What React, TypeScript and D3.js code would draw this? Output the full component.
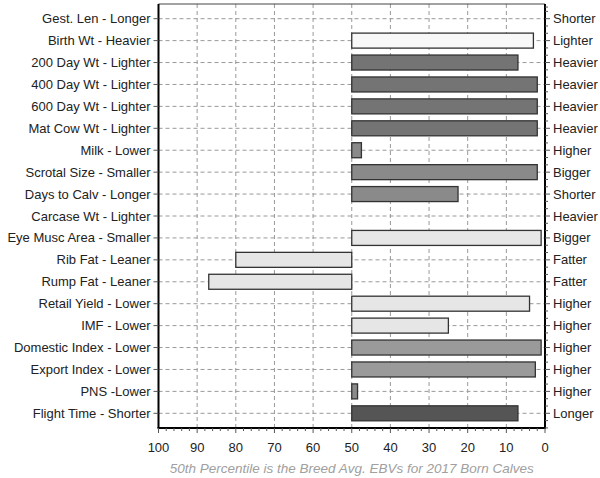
import React from "react";
import * as d3 from "d3";

const traits = [
  "Gest. Len - Longer",
  "Birth Wt - Heavier",
  "200 Day Wt - Lighter",
  "400 Day Wt - Lighter",
  "600 Day Wt - Lighter",
  "Mat Cow Wt - Lighter",
  "Milk - Lower",
  "Scrotal Size - Smaller",
  "Days to Calv - Longer",
  "Carcase Wt - Lighter",
  "Eye Musc Area - Smaller",
  "Rib Fat - Leaner",
  "Rump Fat - Leaner",
  "Retail Yield - Lower",
  "IMF - Lower",
  "Domestic Index - Lower",
  "Export Index - Lower",
  "PNS -Lower",
  "Flight Time - Shorter",
];
const rightLabels = [
  "Shorter", "Lighter", "Heavier", "Heavier", "Heavier", "Heavier", "Higher", "Bigger",
  "Shorter", "Heavier", "Bigger", "Fatter", "Fatter", "Higher", "Higher", "Higher",
  "Higher", "Higher", "Longer",
];
// percentile values (null = no bar)
const percentiles: (number | null)[] = [
  null, 3, 7, 2, 2, 2, 47.5, 2, 22.5, null, 1, 80, 87, 4, 25, 1, 2.5, 48.5, 7,
];
const barColors = [
  "#ffffff", "#f8f8f8", "#747474", "#747474", "#747474", "#747474", "#8a8a8a", "#8a8a8a",
  "#8a8a8a", "#8a8a8a", "#e6e6e6", "#e6e6e6", "#e6e6e6", "#e6e6e6", "#e6e6e6", "#9a9a9a",
  "#9a9a9a", "#8a8a8a", "#555555",
];
const xTicks = [100, 90, 80, 70, 60, 50, 40, 30, 20, 10, 0];
const avgValue = 50;
const caption = "50th Percentile is the Breed Avg. EBVs for 2017 Born Calves";

export default function App() {
  const W = 600, H = 478;
  const left = 158.5, right = 545, top = 4, bottom = 428;
  const x = d3.scaleLinear().domain([100, 0]).range([left, right]);
  const y = d3.scalePoint<string>().domain(traits).range([top, bottom]).padding(0.67);
  const step = y.step();
  const barH = 15;
  const font = "'Liberation Sans', Arial, sans-serif";
  const minorX = d3.range(0, 101, 2);
  const rightMinor: number[] = [];
  traits.forEach((t, i) => {
    const yy = y(t)!;
    if (i === 0) rightMinor.push(yy - step / 3 * 1, yy - step / 3 * 2 + 3);
    rightMinor.push(yy + step / 3, yy + (2 * step) / 3);
  });

  return (
    <svg width={W} height={H} style={{ position: "absolute", left: 0, top: 0, background: "#fff" }}
      fontFamily={font}>
      {/* grid */}
      {xTicks.filter(t => t !== 0 && t !== 100).map(t => (
        <line key={"gx" + t} x1={x(t)} x2={x(t)} y1={top} y2={bottom}
          stroke="#999" strokeDasharray="4,3" strokeWidth={1} />
      ))}
      {traits.map(t => (
        <line key={"gy" + t} x1={left} x2={right} y1={y(t)} y2={y(t)}
          stroke="#999" strokeDasharray="4,3" strokeWidth={1} />
      ))}
      {/* bars */}
      {traits.map((t, i) => {
        const v = percentiles[i];
        if (v === null) return null;
        const x0 = Math.min(x(avgValue), x(v));
        const x1 = Math.max(x(avgValue), x(v));
        return (
          <rect key={"b" + t} x={x0} y={y(t)! - barH / 2} width={x1 - x0} height={barH}
            fill={barColors[i]} stroke="#333" strokeWidth={1.3} />
        );
      })}
      {/* frame */}
      <line x1={left} x2={right} y1={top} y2={top} stroke="#444" strokeWidth={1} />
      <line x1={left} x2={left} y1={top} y2={bottom} stroke="#000" strokeWidth={2} />
      <line x1={right} x2={right} y1={top} y2={bottom} stroke="#000" strokeWidth={2} />
      <line x1={left - 1} x2={right + 1} y1={bottom} y2={bottom} stroke="#000" strokeWidth={2} />
      {/* left ticks & labels */}
      {traits.map(t => (
        <g key={"l" + t}>
          <line x1={left - 5} x2={left} y1={y(t)} y2={y(t)} stroke="#555" />
          <text x={left - 8} y={y(t)} dy="0.35em" textAnchor="end" fontSize={13} fill="#222">{t}</text>
        </g>
      ))}
      {/* right ticks & labels */}
      {traits.map((t, i) => (
        <g key={"r" + t}>
          <line x1={right} x2={right + 5} y1={y(t)} y2={y(t)} stroke="#555" />
          <text x={right + 8} y={y(t)} dy="0.35em" textAnchor="start" fontSize={13} fill="#222">{rightLabels[i]}</text>
        </g>
      ))}
      {rightMinor.filter(v => v > top && v < bottom).map((v, i) => (
        <line key={"rm" + i} x1={right} x2={right + 3} y1={v} y2={v} stroke="#555" />
      ))}
      {/* bottom ticks */}
      {minorX.map(t => (
        <line key={"mx" + t} x1={x(t)} x2={x(t)} y1={bottom} y2={bottom + (t % 10 === 0 ? 5 : 3)} stroke="#555" />
      ))}
      {xTicks.map(t => (
        <text key={"tx" + t} x={x(t)} y={bottom + 19} dy="0.35em" textAnchor="middle" fontSize={13} fill="#222">{t}</text>
      ))}
      <text x={x(avgValue)} y={468} dy="0.35em" textAnchor="middle" fontSize={13.5} fontStyle="italic" fill="#a0a0a0">{caption}</text>
    </svg>
  );
}
